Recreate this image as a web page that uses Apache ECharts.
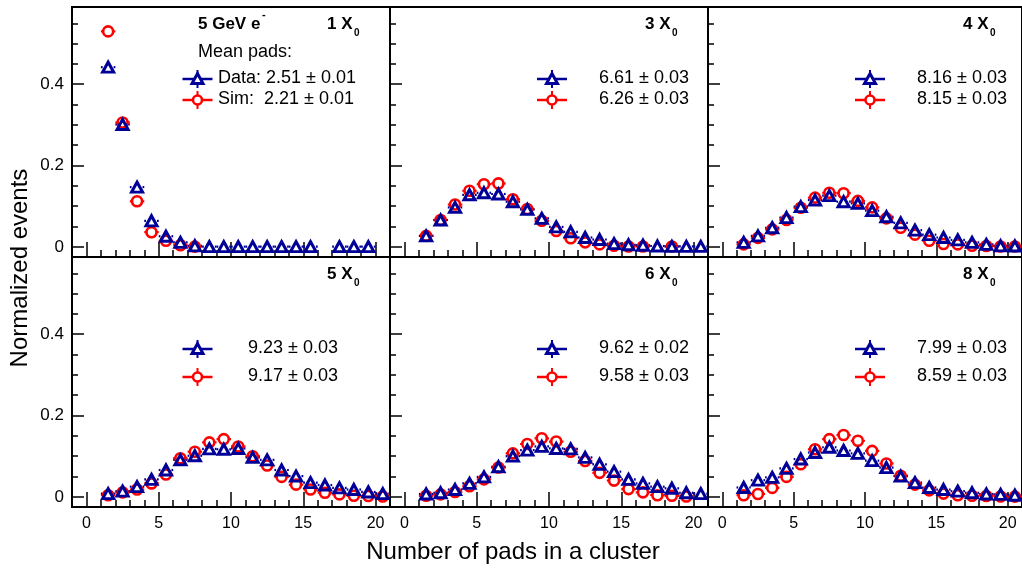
<!DOCTYPE html>
<html><head><meta charset="utf-8">
<script src="https://cdn.jsdelivr.net/npm/echarts@6/dist/echarts.min.js"></script>
<style>html,body{margin:0;padding:0;background:#fff}#c{width:1022px;height:568px}</style>
</head><body><div id="c"></div>
<script>
// ---- data ----
const binCenters = [1.5,2.5,3.5,4.5,5.5,6.5,7.5,8.5,9.5,10.5,11.5,12.5,13.5,14.5,15.5,16.5,17.5,18.5,19.5,20.5];
const panelLabels = ['1', '3', '4', '5', '6', '8'];
const dataMeans = ['2.51 \u00b1 0.01', '6.61 \u00b1 0.03', '8.16 \u00b1 0.03', '9.23 \u00b1 0.03', '9.62 \u00b1 0.02', '7.99 \u00b1 0.03'];
const simMeans  = ['2.21 \u00b1 0.01', '6.26 \u00b1 0.03', '8.15 \u00b1 0.03', '9.17 \u00b1 0.03', '9.58 \u00b1 0.03', '8.59 \u00b1 0.03'];
const xTickLabels = [0, 5, 10, 15, 20];
const yTickLabels = [0, 0.2, 0.4];

const data1X0 = [0.442,0.301,0.147,0.064,0.026,0.011,0.0025,0.0005,0.0005,0.0005,0.0005,0.0005,0.0005,0.0005,0.0005,null,0.0005,0.0005,0.0005,null];
const sim1X0  = [0.530,0.306,0.112,0.036,0.015,0.004,0.0005,null,null,null,null,null,null,null,null,null,null,null,null,null];
const data3X0 = [0.027,0.066,0.097,0.128,0.133,0.130,0.111,0.092,0.070,0.049,0.037,0.023,0.018,0.008,0.005,0.004,0.002,0.001,0.001,0.001];
const sim3X0  = [0.027,0.066,0.104,0.138,0.154,0.156,0.117,0.093,0.064,0.039,0.021,0.011,0.006,0.0025,0.001,0.001,null,0.001,null,null];
const data4X0 = [0.011,0.027,0.047,0.072,0.099,0.115,0.126,0.111,0.107,0.089,0.074,0.059,0.041,0.030,0.023,0.017,0.011,0.006,0.0025,0.002];
const sim4X0  = [0.006,0.022,0.043,0.066,0.096,0.121,0.133,0.132,0.113,0.097,0.070,0.047,0.030,0.015,0.007,0.006,0.0025,0.002,0.001,0.001];
const data5X0 = [0.008,0.014,0.025,0.043,0.066,0.091,0.101,0.118,0.117,0.119,0.097,0.091,0.066,0.051,0.035,0.029,0.022,0.018,0.012,0.008];
const sim5X0  = [0.004,0.011,0.018,0.033,0.055,0.095,0.111,0.134,0.142,0.124,0.100,0.077,0.049,0.030,0.018,0.010,0.006,0.0025,0.002,0.001];
const data6X0 = [0.007,0.010,0.018,0.033,0.049,0.074,0.100,0.115,0.124,0.119,0.118,0.097,0.080,0.062,0.043,0.033,0.025,0.021,0.010,0.008];
const sim6X0  = [0.0025,0.006,0.012,0.026,0.043,0.072,0.107,0.130,0.144,0.136,0.111,0.088,0.059,0.040,0.019,0.011,0.004,0.0025,0.001,null];
const data8X0 = [0.023,0.041,0.048,0.070,0.093,0.109,0.122,0.114,0.107,0.089,0.072,0.051,0.035,0.023,0.018,0.014,0.010,0.007,0.006,0.004];
const sim8X0  = [0.004,0.007,0.022,0.049,0.080,0.117,0.142,0.152,0.138,0.113,0.082,0.052,0.030,0.016,0.008,0.004,0.0025,0.002,0.001,0.0005];

const dataSets = [data1X0, data3X0, data4X0, data5X0, data6X0, data8X0];
const simSets  = [sim1X0, sim3X0, sim4X0, sim5X0, sim6X0, sim8X0];

// ---- style ----
const BLUE = '#000099', RED = '#ff0000';
const FONT = '"Liberation Sans", Arial, Helvetica, sans-serif';
const colLeft = [72, 390, 708], rowTop = [7, 257], PW = 318, PH = 250;
const yMinorVals = [0,0.05,0.1,0.15,0.2,0.25,0.3,0.35,0.4,0.45,0.5,0.55];

function pairs(vals) {
  return binCenters.map((x, k) => [x, vals[k]]).filter(d => d[1] != null);
}
function errBar(color, gap) {
  return function (params, api) {
    const x = api.value(0), y = api.value(1);
    const a = api.coord([x - 0.5, y]), b = api.coord([x + 0.5, y]), c = api.coord([x, y]);
    return { type: 'group', children: [
      { type: 'line', shape: { x1: a[0], y1: a[1], x2: c[0] - gap, y2: c[1] }, style: { stroke: color, lineWidth: 2.2 } },
      { type: 'line', shape: { x1: c[0] + gap, y1: c[1], x2: b[0], y2: b[1] }, style: { stroke: color, lineWidth: 2.2 } }
    ]};
  };
}

const grids = [], xAxes = [], yAxes = [], series = [], graphics = [];
for (let i = 0; i < 6; i++) {
  const row = Math.floor(i / 3), col = i % 3;
  const L = colLeft[col], T = rowTop[row];
  grids.push({ left: L, top: T, width: PW, height: PH, show: true, borderColor: '#000', borderWidth: 2, backgroundColor: 'transparent' });
  xAxes.push({ gridIndex: i, type: 'value', position: 'bottom', min: -1, max: 21,
    axisLine: { show: false, onZero: false }, splitLine: { show: false },
    axisTick: { show: true, inside: true, length: 15, customValues: xTickLabels, lineStyle: { color: '#000', width: 1.5 } },
    axisLabel: { show: row === 1, customValues: xTickLabels, color: '#000', fontSize: 16, fontFamily: FONT, margin: 9 } });
  xAxes.push({ gridIndex: i, type: 'value', position: 'bottom', min: -1, max: 21, interval: 1,
    axisLine: { show: false, onZero: false }, splitLine: { show: false },
    axisTick: { show: true, inside: true, length: 7, lineStyle: { color: '#000', width: 1.5 } },
    axisLabel: { show: false } });
  yAxes.push({ gridIndex: i, type: 'value', position: 'left', min: -0.025, max: 0.59,
    axisLine: { show: false, onZero: false }, splitLine: { show: false },
    axisTick: { show: true, inside: true, length: 12, customValues: yTickLabels, lineStyle: { color: '#000', width: 1.5 } },
    axisLabel: { show: col === 0, customValues: yTickLabels, color: '#000', fontSize: 17, fontFamily: FONT, margin: 8,
      formatter: v => (Math.abs(v) < 1e-9 ? '0' : String(Math.round(v * 10) / 10)) } });
  yAxes.push({ gridIndex: i, type: 'value', position: 'left', min: -0.025, max: 0.59,
    axisLine: { show: false, onZero: false }, splitLine: { show: false },
    axisTick: { show: true, inside: true, length: 6, customValues: yMinorVals, lineStyle: { color: '#000', width: 1.5 } },
    axisLabel: { show: false } });

  const xi = 2 * i, yi = 2 * i;
  series.push({ type: 'custom', xAxisIndex: xi, yAxisIndex: yi, renderItem: errBar(RED, 5.5), data: pairs(simSets[i]), clip: true, silent: true, z: 2 });
  series.push({ type: 'custom', xAxisIndex: xi, yAxisIndex: yi, renderItem: errBar(BLUE, 5.5), data: pairs(dataSets[i]), clip: true, silent: true, z: 3 });
  series.push({ type: 'scatter', xAxisIndex: xi, yAxisIndex: yi, data: pairs(simSets[i]), symbol: 'circle', symbolSize: 10,
    itemStyle: { color: 'rgba(0,0,0,0)', borderColor: RED, borderWidth: 2.6, opacity: 1 }, silent: true, z: 4 });
  series.push({ type: 'scatter', xAxisIndex: xi, yAxisIndex: yi, data: pairs(dataSets[i]), symbol: 'triangle', symbolSize: [11, 10],
    itemStyle: { color: 'rgba(0,0,0,0)', borderColor: BLUE, borderWidth: 3, opacity: 1 }, silent: true, z: 5 });

  // panel label "N X0"
  const ly = T + 19;
  graphics.push({ type: 'text', left: L + 255, top: ly - 10, style: { text: panelLabels[i] + ' X', font: 'bold 17px ' + FONT, fill: '#000' } });
  graphics.push({ type: 'text', left: L + 282, top: ly + 2, style: { text: '0', font: 'bold 10px ' + FONT, fill: '#000' } });

  // legend
  const mx = L + (col === 0 ? 125.5 : 162);
  const tx = L + (i === 0 ? 146 : (i === 3 ? 176 : 209));
  const y1 = T + (row === 0 ? 72 : 92), y2 = T + (row === 0 ? 93 : 120);
  const dataText = i === 0 ? 'Data: ' + dataMeans[i] : dataMeans[i];
  const simText = i === 0 ? 'Sim:  ' + simMeans[i] : simMeans[i];
  graphics.push({ type: 'line', shape: { x1: mx - 15, y1: y1, x2: mx + 15, y2: y1 }, style: { stroke: BLUE, lineWidth: 2.5 } });
  graphics.push({ type: 'line', shape: { x1: mx, y1: y1 - 9, x2: mx, y2: y1 + 9 }, style: { stroke: BLUE, lineWidth: 2 } });
  graphics.push({ type: 'polygon', shape: { points: [[mx - 5.5, y1 + 4.5], [mx + 5.5, y1 + 4.5], [mx, y1 - 5.5]] }, style: { fill: '#fff', stroke: BLUE, lineWidth: 3 } });
  graphics.push({ type: 'line', shape: { x1: mx - 15, y1: y2, x2: mx + 15, y2: y2 }, style: { stroke: RED, lineWidth: 2.5 } });
  graphics.push({ type: 'line', shape: { x1: mx, y1: y2 - 9, x2: mx, y2: y2 + 9 }, style: { stroke: RED, lineWidth: 2 } });
  graphics.push({ type: 'circle', shape: { cx: mx, cy: y2, r: 4.5 }, style: { fill: '#fff', stroke: RED, lineWidth: 2.6 } });
  graphics.push({ type: 'text', left: tx, top: y1 - 10, style: { text: dataText, font: '18px ' + FONT, fill: '#000' } });
  graphics.push({ type: 'text', left: tx, top: y2 - 10, style: { text: simText, font: '18px ' + FONT, fill: '#000' } });
}
// top-left extra texts
graphics.push({ type: 'text', left: 198, top: 16, style: { text: '5 GeV e', font: 'bold 17px ' + FONT, fill: '#000' } });
graphics.push({ type: 'text', left: 262, top: 9, style: { text: '-', font: 'bold 11px ' + FONT, fill: '#000' } });
graphics.push({ type: 'text', left: 198, top: 43, style: { text: 'Mean pads:', font: '18px ' + FONT, fill: '#000' } });
// axis titles
graphics.push({ type: 'text', x: 513, y: 552, style: { text: 'Number of pads in a cluster', font: '24px ' + FONT, fill: '#000', align: 'center', verticalAlign: 'middle' } });
graphics.push({ type: 'text', x: 20, y: 268, rotation: Math.PI / 2, style: { text: 'Normalized events', font: '24px ' + FONT, fill: '#000', align: 'center', verticalAlign: 'middle' } });

const chart = echarts.init(document.getElementById('c'), null, { renderer: 'canvas' });
chart.setOption({
  animation: false,
  backgroundColor: '#fff',
  grid: grids, xAxis: xAxes, yAxis: yAxes, series: series,
  graphic: { elements: graphics }
});
</script></body></html>
